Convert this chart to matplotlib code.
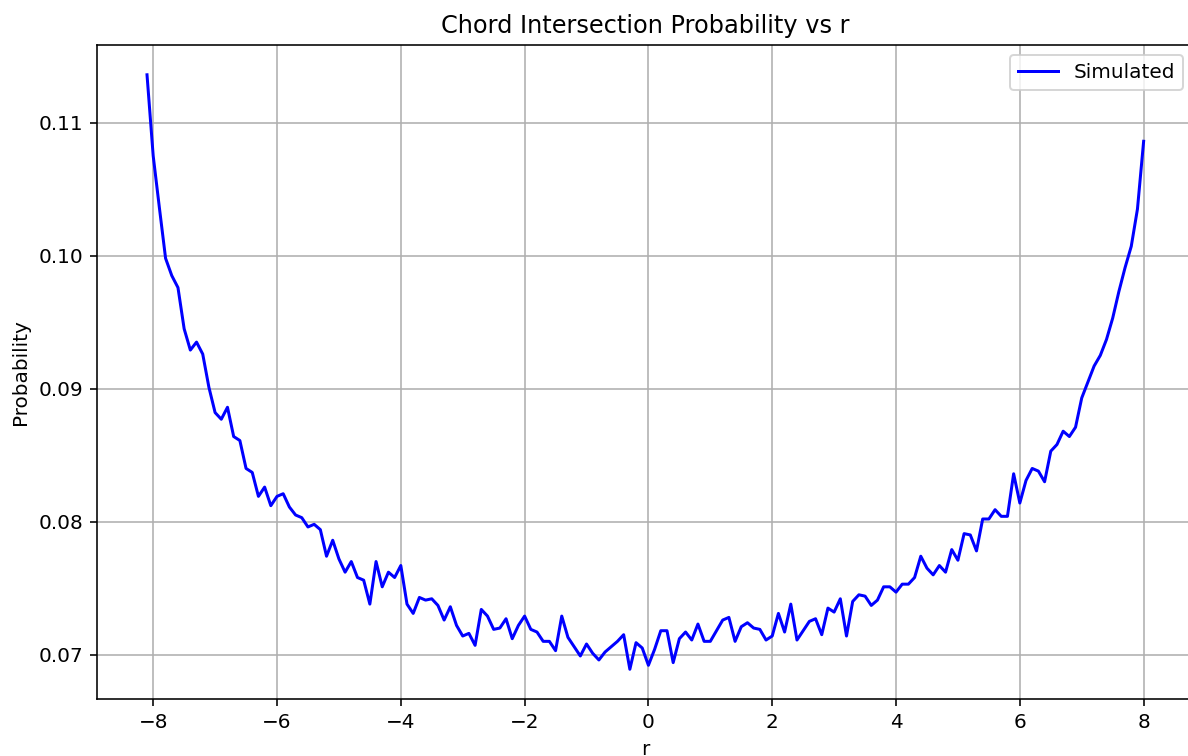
import numpy as np
import matplotlib
matplotlib.use("Agg")
import matplotlib.pyplot as plt

# r 取樣網格：-8.1 到 8.0，每 0.1 一點（共 162 點）
r_values = np.linspace(-8.1, 8.0, 162)

# 模擬機率
prob_left = [
    0.1136, 0.1075, 0.1036, 0.0998, 0.0985, 0.0976, 0.0945, 0.0929, 0.0935, 0.0926,  # -8.1 .. -7.2
    0.0901, 0.0882, 0.0877, 0.0886, 0.0864, 0.0861, 0.0840, 0.0837, 0.0819, 0.0826,  # -7.1 .. -6.2
    0.0812, 0.0819, 0.0821, 0.0811, 0.0805, 0.0803, 0.0796, 0.0798, 0.0794, 0.0774,  # -6.1 .. -5.2
    0.0786, 0.0772, 0.0762, 0.0770, 0.0758, 0.0756, 0.0738, 0.0770, 0.0751, 0.0762,  # -5.1 .. -4.2
    0.0758, 0.0767, 0.0738, 0.0731, 0.0743, 0.0741, 0.0742, 0.0737, 0.0726, 0.0736,  # -4.1 .. -3.2
    0.0722, 0.0714, 0.0716, 0.0707, 0.0734, 0.0729, 0.0719, 0.0720, 0.0727, 0.0712,  # -3.1 .. -2.2
    0.0722, 0.0729, 0.0719, 0.0717, 0.0710, 0.0710, 0.0703, 0.0729, 0.0713, 0.0706,  # -2.1 .. -1.2
    0.0699, 0.0708, 0.0701, 0.0696, 0.0702, 0.0706, 0.0710, 0.0715, 0.0689, 0.0709,  # -1.1 .. -0.2
    0.0705,                                                                          # -0.1
]
prob_right = [
    0.0692, 0.0704, 0.0718, 0.0718, 0.0694, 0.0712, 0.0717, 0.0711, 0.0723, 0.0710,  # 0.0 .. 0.9
    0.0710, 0.0718, 0.0726, 0.0728, 0.0710, 0.0721, 0.0724, 0.0720, 0.0719, 0.0711,  # 1.0 .. 1.9
    0.0714, 0.0731, 0.0717, 0.0738, 0.0711, 0.0718, 0.0725, 0.0727, 0.0715, 0.0735,  # 2.0 .. 2.9
    0.0732, 0.0742, 0.0714, 0.0740, 0.0745, 0.0744, 0.0737, 0.0741, 0.0751, 0.0751,  # 3.0 .. 3.9
    0.0747, 0.0753, 0.0753, 0.0758, 0.0774, 0.0765, 0.0760, 0.0767, 0.0762, 0.0779,  # 4.0 .. 4.9
    0.0771, 0.0791, 0.0790, 0.0778, 0.0802, 0.0802, 0.0809, 0.0804, 0.0804, 0.0836,  # 5.0 .. 5.9
    0.0814, 0.0831, 0.0840, 0.0838, 0.0830, 0.0853, 0.0858, 0.0868, 0.0864, 0.0871,  # 6.0 .. 6.9
    0.0893, 0.0905, 0.0917, 0.0925, 0.0937, 0.0953, 0.0973, 0.0991, 0.1007, 0.1035,  # 7.0 .. 7.9
    0.1086,                                                                          # 8.0
]
probability = np.array(prob_left + prob_right)


def main():
    fig = plt.figure(figsize=(8.25, 5.25), dpi=144)
    ax = fig.add_axes([0.0818, 0.0754, 0.9228, 0.865])

    ax.plot(r_values, probability, color="blue", label="Simulated")

    ax.set_title("Chord Intersection Probability vs r")
    ax.set_xlabel("r")
    ax.set_ylabel("Probability")
    ax.grid(True)
    ax.legend(loc="upper right")

    fig.savefig("out.png", dpi=144)


if __name__ == "__main__":
    main()
